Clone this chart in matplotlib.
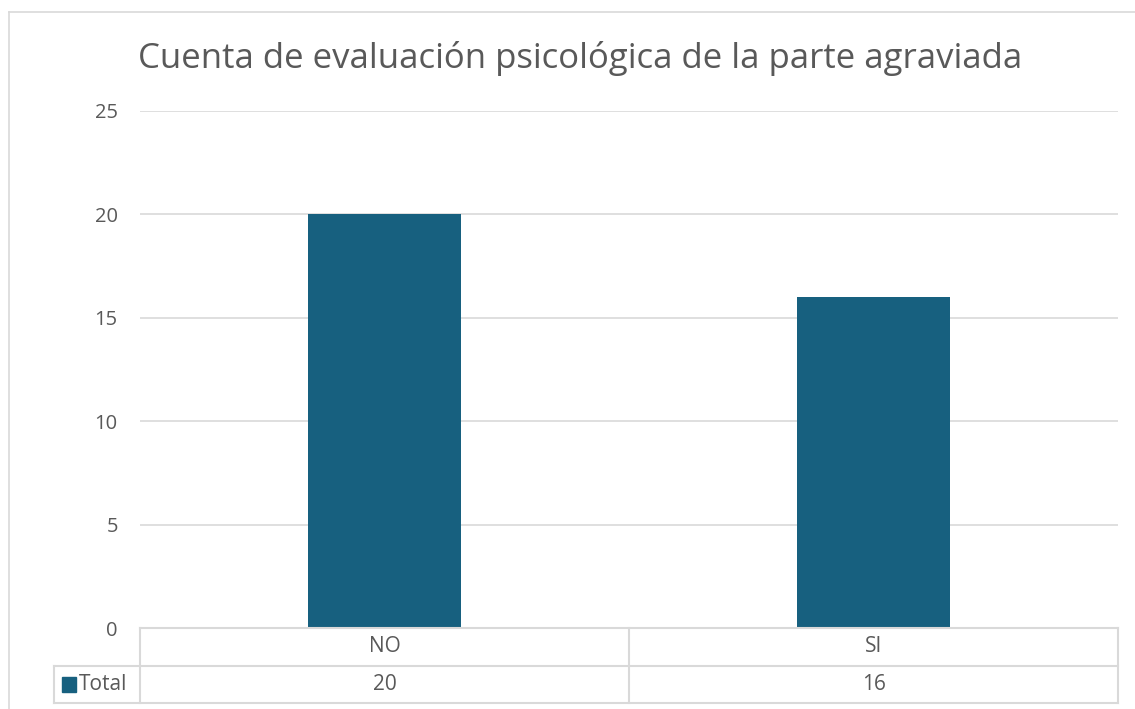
import matplotlib.pyplot as plt
from matplotlib.patches import Rectangle
from matplotlib.lines import Line2D

# data
categories = ["NO", "SI"]
values = [20, 16]
series_name = "Total"
title = "Cuenta de evaluación psicológica de la parte agraviada"
y_ticks = [0, 5, 10, 15, 20, 25]

bar_color = "#17607f"
grid_color = "#d9d9d9"
text_color = "#595959"

plt.rcParams["font.family"] = ["Open Sans", "DejaVu Sans"]

W, H = 1135, 709
fig = plt.figure(figsize=(W / 100, H / 100), dpi=100)
fig.patch.set_facecolor("white")

# outer chart border (left and top visible)
fig.add_artist(Line2D([9 / W, 9 / W], [0, 1 - 12 / H], transform=fig.transFigure,
                      color=grid_color, lw=1.2))
fig.add_artist(Line2D([9 / W, 1], [1 - 12 / H, 1 - 12 / H], transform=fig.transFigure,
                      color=grid_color, lw=1.2))

# main plot
ax = fig.add_axes([140 / W, (H - 628) / H, 978 / W, 517 / H])
x = list(range(len(categories)))
ax.bar(x, values, width=0.313, color=bar_color, zorder=3)
ax.set_xlim(-0.5, len(categories) - 0.5)
ax.set_ylim(0, 25)
ax.set_yticks(y_ticks)
ax.set_yticklabels([str(t) for t in y_ticks], fontsize=14.5, color=text_color)
ax.tick_params(axis="y", length=0, pad=16)
ax.set_xticks([])
for s in ax.spines.values():
    s.set_visible(False)
ax.grid(axis="y", color=grid_color, lw=1.2, zorder=0)

fig.text(580 / W, 1 - 58 / H, title, ha="center", va="center",
         fontsize=25, color=text_color)

# data table below the axis
ax_t = fig.add_axes([140 / W, 6 / H, 978 / W, 75 / H])
ax_t.set_xlim(-0.5, len(categories) - 0.5)
ax_t.set_ylim(0, 2)
ax_t.axis("off")
xl = -0.676
n = len(categories)
line_kw = dict(color=grid_color, lw=1.5, clip_on=False)
ax_t.plot([-0.5, n - 0.5], [2, 2], **line_kw)
ax_t.plot([xl, n - 0.5], [1, 1], **line_kw)
ax_t.plot([xl, n - 0.5], [0, 0], **line_kw)
ax_t.plot([xl, xl], [0, 1], **line_kw)
for b in range(n + 1):
    ax_t.plot([b - 0.5, b - 0.5], [0, 2], **line_kw)

for i, (c, v) in enumerate(zip(categories, values)):
    ax_t.text(i, 1.5, c, ha="center", va="center", fontsize=15, color=text_color)
    ax_t.text(i, 0.5, str(v), ha="center", va="center", fontsize=15, color=text_color)

ax_t.add_patch(Rectangle((-0.66, 0.3), 0.029, 0.4, color=bar_color, clip_on=False))
ax_t.text(-0.626, 0.5, series_name, ha="left", va="center", fontsize=15, color=text_color)

fig.savefig("out.png", dpi=100)
